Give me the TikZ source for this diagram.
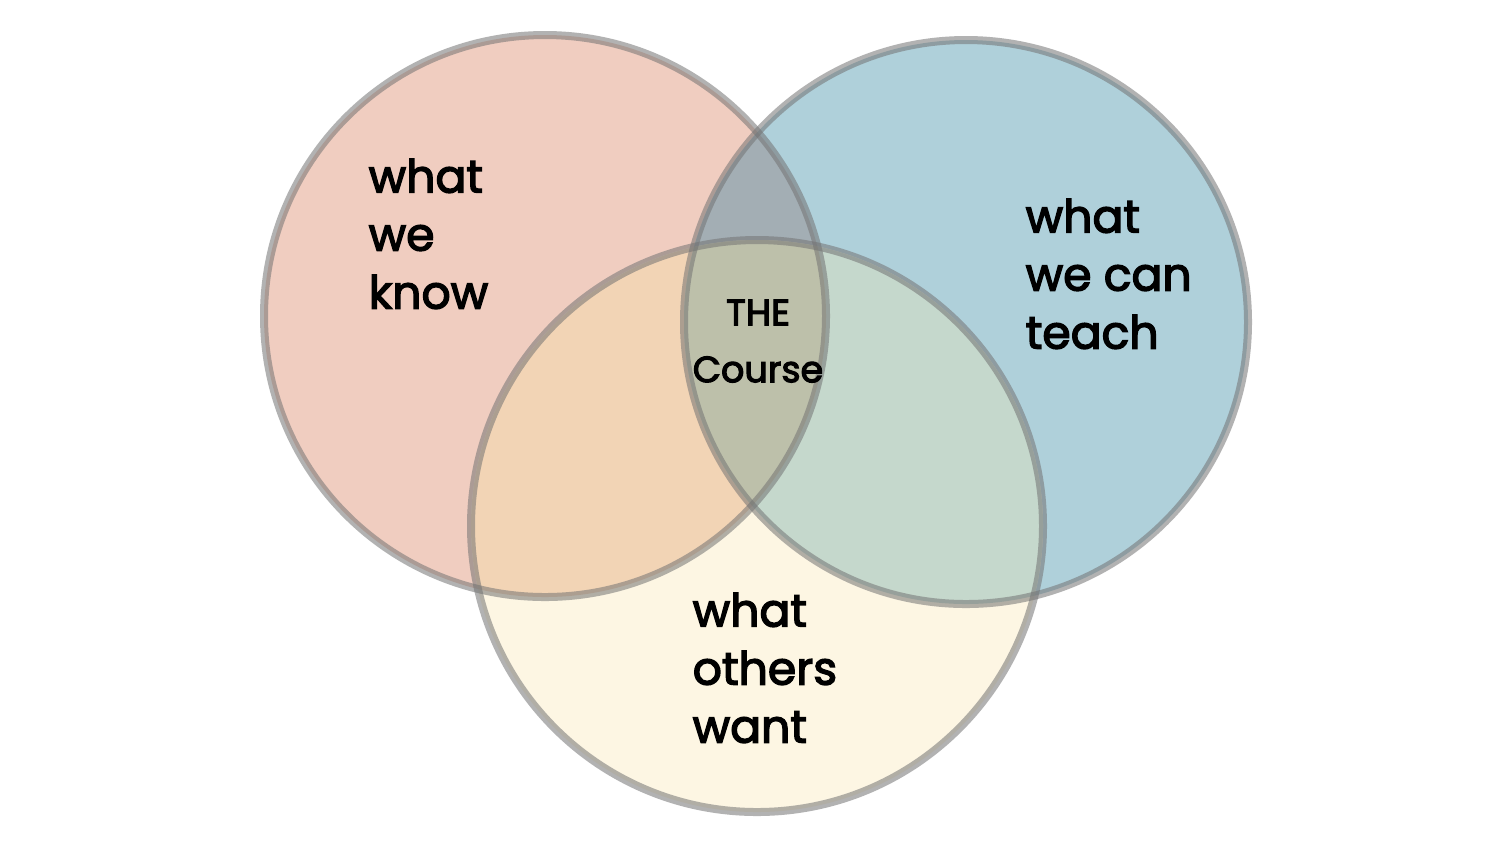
\documentclass[tikz,border=0pt]{standalone}
\usepackage{fontspec}
\setmainfont{Poppins}
\newfontfamily\lblfont{Poppins}[FakeBold=3]
\definecolor{cA}{RGB}{240,205,192}
\definecolor{cB}{RGB}{175,208,218}
\definecolor{cC}{RGB}{253,246,227}
\definecolor{cAB}{RGB}{163,174,180}
\definecolor{cAC}{RGB}{242,212,181}
\definecolor{cBC}{RGB}{197,216,204}
\definecolor{cABC}{RGB}{189,192,170}
\definecolor{ringcol}{RGB}{115,115,115}
\begin{document}
\begin{tikzpicture}[x=0.01cm,y=-0.01cm,
  ring/.style={draw=ringcol,draw opacity=0.55,line width=0.08cm},
  lbl/.style={inner sep=0pt,align=left,anchor=north west,font=\lblfont\fontsize{13}{16.5}\selectfont},
  clbl/.style={inner sep=0pt,align=center,anchor=north,font=\lblfont\fontsize{10.4}{16.2}\selectfont}]
\useasboundingbox (0,0) rectangle (1500,844);
\fill[white] (0,0) rectangle (1500,844);
\coordinate (ca) at (545,316);
\coordinate (cb) at (966,322);
\coordinate (cc) at (757,526);
\fill[cA] (ca) circle[radius=281];
\fill[cB] (cb) circle[radius=282];
\fill[cC] (cc) circle[radius=286];
\begin{scope}\clip (ca) circle[radius=281]; \fill[cAB] (cb) circle[radius=282];\end{scope}
\begin{scope}\clip (ca) circle[radius=281]; \fill[cAC] (cc) circle[radius=286];\end{scope}
\begin{scope}\clip (cb) circle[radius=282]; \fill[cBC] (cc) circle[radius=286];\end{scope}
\begin{scope}\clip (ca) circle[radius=281]; \clip (cb) circle[radius=282]; \fill[cABC] (cc) circle[radius=286];\end{scope}
\draw[ring] (ca) circle[radius=281];
\draw[ring] (cb) circle[radius=282];
\draw[ring] (cc) circle[radius=286];
\node[lbl] (know) at (368,158) {what\\we\\know};
\node[lbl] (teach) at (1025,198) {what\\we can\\teach};
\node[lbl] (want) at (692,592) {what\\others\\want};
\node[clbl] (course) at (758,299) {THE\\Course};
\end{tikzpicture}
\end{document}
